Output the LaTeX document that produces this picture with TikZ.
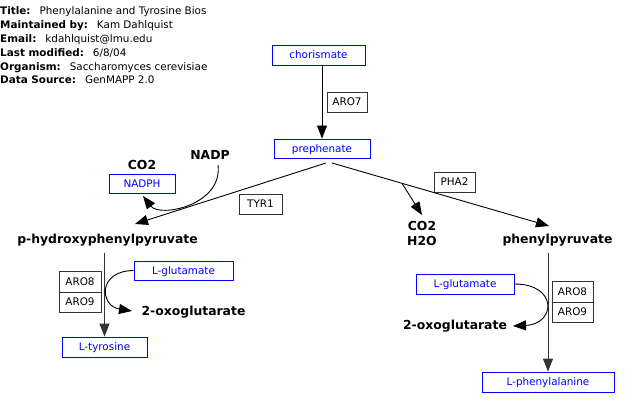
\documentclass[tikz,border=0pt]{standalone}
\usepackage{fontspec}
\setmainfont{DejaVu Sans}
\usetikzlibrary{arrows.meta}
\begin{document}
\begin{tikzpicture}[x=1pt,y=-1pt,
 font=\fontsize{10.4}{12}\selectfont,
 metab/.style={draw=blue, text=blue, line width=0.9pt, inner sep=0pt, text height=7.5pt, text depth=0pt},
 gene/.style={draw=black!80, line width=0.9pt, inner sep=0pt, text height=7.5pt, text depth=0pt},
 lbl/.style={font=\fontsize{12.4}{14}\selectfont\bfseries, inner sep=0pt, text height=9pt, text depth=0pt},
 hdr/.style={anchor=base west, inner sep=0pt},
 arr/.style={line width=0.9pt, -{Triangle[length=13pt,width=10pt]}},
 vln/.style={line width=1pt, draw=black!80, -{Triangle[length=13pt,width=10pt]}}]
\useasboundingbox[fill=white] (0,0) rectangle (638,406);

% header
\node[hdr] (h1) at (0,14.6) {\textbf{Title:}\hspace{9pt}Phenylalanine and Tyrosine Bios};
\node[hdr] (h2) at (0,28.6) {\textbf{Maintained by:}\hspace{9pt}Kam Dahlquist};
\node[hdr] (h3) at (0,42.6) {\textbf{Email:}\hspace{9pt}kdahlquist@lmu.edu};
\node[hdr] (h4) at (0,56.6) {\textbf{Last modified:}\hspace{9pt}6/8/04};
\node[hdr] (h5) at (0,70.6) {\textbf{Organism:}\hspace{9pt}Saccharomyces cerevisiae};
\node[hdr] (h6) at (0,83.6) {\textbf{Data Source:}\hspace{9pt}GenMAPP 2.0};

% metabolites (boxes)
\node[metab, minimum width=93pt, minimum height=20pt] (chor) at (318.5,55) {chorismate};
\node[metab, minimum width=96pt, minimum height=19pt] (preph) at (322,148.5) {prephenate};
\node[metab, minimum width=66pt, minimum height=19pt] (nadph) at (142,183.5) {NADPH};
\node[metab, minimum width=99pt, minimum height=19pt] (glu1) at (183.5,270.5) {L-glutamate};
\node[metab, minimum width=85pt, minimum height=20pt] (tyr) at (104.5,347) {L-tyrosine};
\node[metab, minimum width=98pt, minimum height=20pt] (glu2) at (465,284) {L-glutamate};
\node[metab, minimum width=132pt, minimum height=20pt] (phe) at (548,382) {L-phenylalanine};

% genes
\node[gene, minimum width=40pt, minimum height=20pt] (aro7) at (347,102) {ARO7};
\node[gene, minimum width=43pt, minimum height=20pt] (tyr1) at (260.5,204) {TYR1};
\node[gene, minimum width=41pt, minimum height=20pt] (pha2) at (454.5,182) {PHA2};
\node[gene, minimum width=42pt, minimum height=21pt] (aro8a) at (80,281.5) {ARO8};
\node[gene, minimum width=42pt, minimum height=20pt] (aro9a) at (80,302) {ARO9};
\node[gene, minimum width=41pt, minimum height=21pt] (aro8b) at (572.5,291.5) {ARO8};
\node[gene, minimum width=41pt, minimum height=20pt] (aro9b) at (572.5,312) {ARO9};

% bold labels
\node[lbl] (nadp) at (210,155) {NADP};
\node[lbl] (co2a) at (142,165) {CO2};
\node[lbl] (co2b) at (422,226) {CO2};
\node[lbl] (h2o) at (422,241) {H2O};
\node[lbl] (hpp) at (107.5,239) {p-hydroxyphenylpyruvate};
\node[lbl] (ppy) at (557.5,239) {phenylpyruvate};
\node[lbl] (oxo1) at (193.5,311) {2-oxoglutarate};
\node[lbl] (oxo2) at (455,325) {2-oxoglutarate};

% connector points
\coordinate (p1) at (326,163);
\coordinate (p2) at (332,163);
\coordinate (t1) at (135,224);
\coordinate (t2) at (549,226);
\coordinate (br) at (402,183.3);
\coordinate (t3) at (422,215);
\coordinate (n0) at (218,165);
\coordinate (nT) at (143,196);
\coordinate (g1T) at (132,311);
\coordinate (g2T) at (513,326);

% connectors
\draw[arr] (chor.south -| preph.north) -- (preph.north);
\draw[arr] (p1) -- (t1);
\draw[arr] (p2) -- (t2);
\draw[arr] (br) -- (t3);
\draw[arr] (n0) .. controls (223,205) and (160,218) .. (nT);
\draw[vln] ([yshift=-9pt]hpp.south -| tyr.north) -- (tyr.north);
\draw[vln] ([yshift=-9pt]ppy.south -| phe.north) -- (phe.north);
\draw[arr] (glu1.west) .. controls (97,271) and (100,306) .. (g1T);
\draw[arr] (glu2.east) .. controls (558,284) and (556,324) .. (g2T);
\end{tikzpicture}
\end{document}
